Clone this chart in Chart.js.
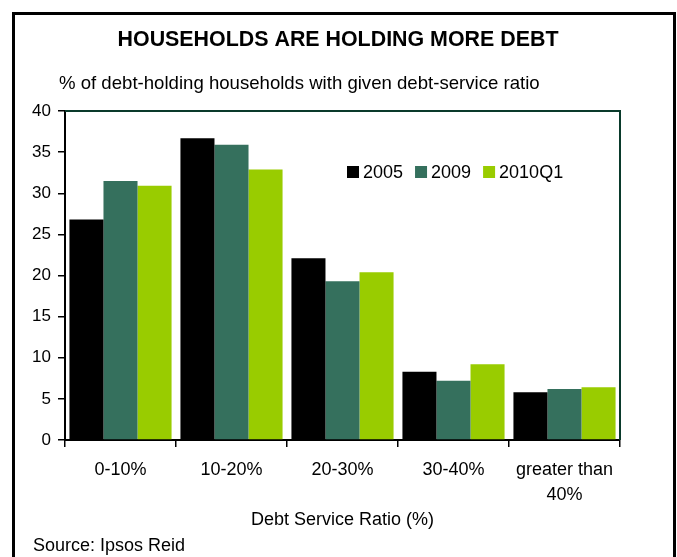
<!DOCTYPE html>
<html>
<head>
<meta charset="utf-8">
<title>Households are holding more debt</title>
<script src="https://cdn.jsdelivr.net/npm/chart.js@4.4.1/dist/chart.umd.min.js"></script>
<style>
  html, body { margin: 0; padding: 0; background: #fff; }
  #chart-wrap { width: 677px; height: 557px; position: relative; }
</style>
</head>
<body>
<div id="chart-wrap"><canvas id="chart-bar_debt"></canvas></div>
<script>
// ------------- DATOS
const categorias = [['0-10%'], ['10-20%'], ['20-30%'], ['30-40%'], ['greater than', '40%']];
const serieNombres = ['2005', '2009', '2010Q1'];
const valores2005 = [26.8, 36.7, 22.1, 8.3, 5.8];
const valores2009 = [31.5, 35.9, 19.3, 7.2, 6.2];
const valores2010Q1 = [30.9, 32.9, 20.4, 9.2, 6.4];
const yTicks = { min: 0, max: 40, step: 5 };

const tituloTexto = 'HOUSEHOLDS ARE HOLDING MORE DEBT';
const subtituloTexto = '% of debt-holding households with given debt-service ratio';
const ejeXTexto = 'Debt Service Ratio (%)';
const fuenteTexto = 'Source: Ipsos Reid';

const colores = ['#000000', '#35705d', '#99cc00'];
const FONT = "'Liberation Sans', Arial, sans-serif";

Chart.defaults.font.family = FONT;
Chart.defaults.color = '#000';

// ---------- TEXTOS, MARCO Y LEYENDA (dibujados sobre el canvas)
const decoracionPlugin = {
  id: 'decoracion',
  afterDraw(chart) {
    const ctx = chart.ctx;
    const area = chart.chartArea;
    ctx.save();

    // marco exterior
    ctx.strokeStyle = '#000';
    ctx.lineWidth = 3;
    ctx.strokeRect(13.5, 13.5, 661, 560);

    // borde superior y derecho del area de dibujo
    ctx.strokeStyle = '#0a3a2b';
    ctx.lineWidth = 2;
    ctx.beginPath();
    ctx.moveTo(area.left, area.top);
    ctx.lineTo(area.right, area.top);
    ctx.lineTo(area.right, area.bottom);
    ctx.stroke();

    // titulo
    ctx.fillStyle = '#000';
    ctx.textBaseline = 'alphabetic';
    ctx.textAlign = 'center';
    ctx.font = 'bold 21.4px ' + FONT;
    ctx.fillText(tituloTexto, 338, 46);

    // subtitulo
    ctx.textAlign = 'left';
    ctx.font = '18.6px ' + FONT;
    ctx.fillText(subtituloTexto, 59, 89);

    // fuente
    ctx.font = '18px ' + FONT;
    ctx.fillText(fuenteTexto, 33, 551);

    // leyenda dentro del grafico
    let x = 347;
    const yc = 172;
    ctx.textBaseline = 'middle';
    chart.data.datasets.forEach(function (ds) {
      ctx.fillStyle = ds.backgroundColor;
      ctx.fillRect(x, yc - 6, 12, 12);
      ctx.fillStyle = '#000';
      ctx.fillText(ds.label, x + 16, yc + 1);
      x += 16 + ctx.measureText(ds.label).width + 12;
    });

    ctx.restore();
  }
};

// --------- GRAFICO TIPO: DE BARRAS
const ctx = document.getElementById('chart-bar_debt').getContext('2d');
const myChartDebt = new Chart(ctx, {
  type: 'bar',
  data: {
    labels: categorias,
    datasets: [
      { label: serieNombres[0], data: valores2005, backgroundColor: colores[0] },
      { label: serieNombres[1], data: valores2009, backgroundColor: colores[1] },
      { label: serieNombres[2], data: valores2010Q1, backgroundColor: colores[2] }
    ]
  },
  options: {
    responsive: true,
    maintainAspectRatio: false,
    animation: false,
    layout: { padding: { left: 0, right: 57, top: 111, bottom: 0 } },
    datasets: {
      bar: { categoryPercentage: 0.92, barPercentage: 1.0, borderWidth: 0 }
    },
    plugins: {
      legend: { display: false },
      title: { display: false },
      tooltip: { enabled: false }
    },
    scales: {
      y: {
        min: yTicks.min,
        max: yTicks.max,
        ticks: { stepSize: yTicks.step, color: '#000', font: { size: 17 }, padding: 7 },
        border: { color: '#000', width: 2 },
        grid: { drawOnChartArea: false, drawTicks: true, tickLength: 7, color: '#000', lineWidth: 1.5 },
        afterFit: function (scale) { scale.width = 65; }
      },
      x: {
        ticks: { color: '#000', font: { size: 18, lineHeight: 1.4 }, padding: 10, maxRotation: 0, autoSkip: false },
        border: { color: '#000', width: 2 },
        grid: { drawOnChartArea: false, drawTicks: true, tickLength: 7, color: '#000', lineWidth: 1.5 },
        title: {
          display: true,
          text: ejeXTexto,
          color: '#000',
          font: { size: 18 },
          padding: { top: 0, bottom: 26 }
        },
        afterFit: function (scale) { scale.height = 117; }
      }
    }
  },
  plugins: [decoracionPlugin]
});
</script>
</body>
</html>
